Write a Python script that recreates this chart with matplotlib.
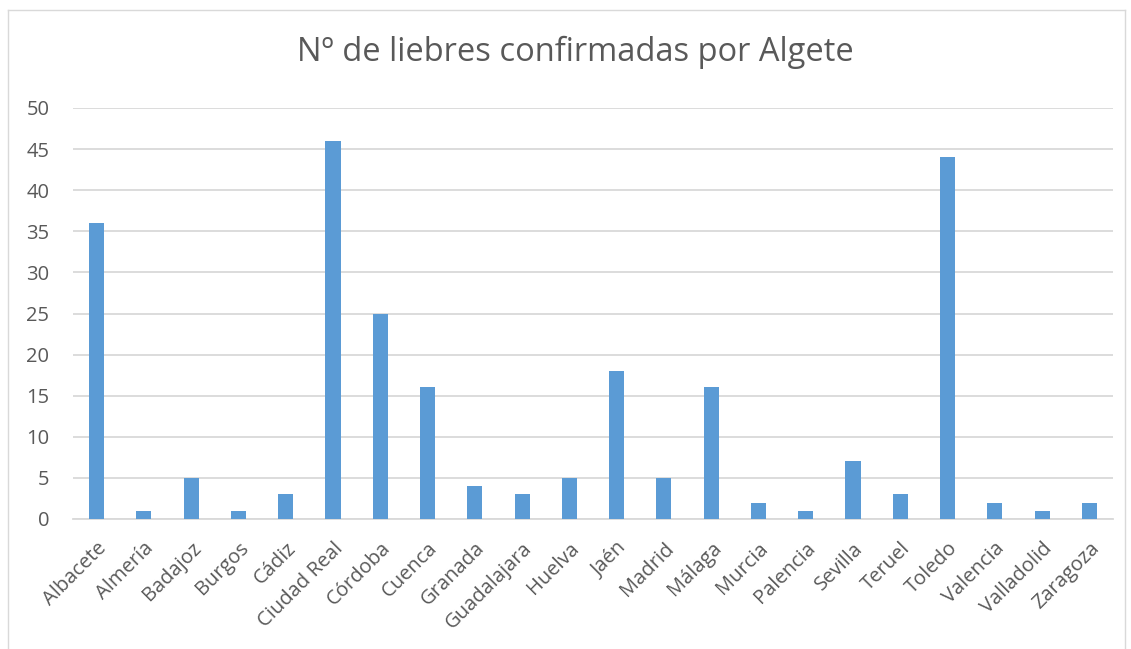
import matplotlib
matplotlib.use("Agg")
import matplotlib.pyplot as plt
from matplotlib.lines import Line2D
import numpy as np

provincias = ["Albacete", "Almería", "Badajoz", "Burgos", "Cádiz", "Ciudad Real",
              "Córdoba", "Cuenca", "Granada", "Guadalajara", "Huelva", "Jaén",
              "Madrid", "Málaga", "Murcia", "Palencia", "Sevilla", "Teruel",
              "Toledo", "Valencia", "Valladolid", "Zaragoza"]
liebres = [36, 1, 5, 1, 3, 46, 25, 16, 4, 3, 5, 18, 5, 16, 2, 1, 7, 3, 44, 2, 1, 2]
yticks = [0, 5, 10, 15, 20, 25, 30, 35, 40, 45, 50]
titulo = "Nº de liebres confirmadas por Algete"

plt.rcParams['font.family'] = ['Open Sans', 'DejaVu Sans']
W, H = 1131, 649
fig = plt.figure(figsize=(W / 100, H / 100), dpi=100)
ax = fig.add_axes([73 / W, 1 - 519 / H, (1113 - 73) / W, (519 - 108) / H])

txt = "#595959"
grid = "#d9d9d9"
x = np.arange(len(provincias))
ax.bar(x, liebres, width=0.32, color="#5b9bd5", zorder=3)
ax.set_xlim(-0.5, len(provincias) - 0.5)
ax.set_ylim(0, 50)
ax.set_yticks(yticks)
ax.set_yticklabels([str(v) for v in yticks], fontsize=14.5, color=txt)
ax.set_xticks(x)
ax.set_xticklabels(provincias, rotation=45, ha="right", rotation_mode="anchor",
                   fontsize=14.5, color=txt)
ax.tick_params(axis="both", length=0)
ax.tick_params(axis="y", pad=17)
ax.tick_params(axis="x", pad=14)
ax.yaxis.grid(True, color=grid, linewidth=1.3, zorder=0)
for s in ["top", "right", "left"]:
    ax.spines[s].set_visible(False)
ax.spines["bottom"].set_color(grid)
ax.spines["bottom"].set_linewidth(1.3)

fig.text(0.5 * (298 + 853) / W, 1 - 52 / H, titulo, ha="center", va="center",
         fontsize=23.5, color=txt)

# chart border
bx0, by0, bx1 = 8 / W, 1 - 10 / H, 1125 / W
fig.add_artist(Line2D([bx0, bx0], [0, by0], transform=fig.transFigure, color=grid, lw=1))
fig.add_artist(Line2D([bx0, bx1], [by0, by0], transform=fig.transFigure, color=grid, lw=1))
fig.add_artist(Line2D([bx1, bx1], [0, by0], transform=fig.transFigure, color=grid, lw=1))

fig.savefig("out.png", dpi=100)
